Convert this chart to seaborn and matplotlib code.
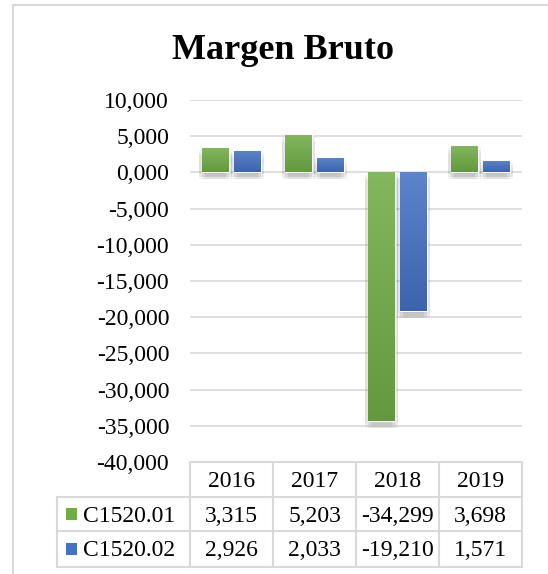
import matplotlib
matplotlib.use("Agg")
import matplotlib.pyplot as plt
import matplotlib.patheffects as pe
import matplotlib.transforms as mtransforms
from matplotlib.colors import LinearSegmentedColormap
from matplotlib.patches import Rectangle
from matplotlib.lines import Line2D
from matplotlib.ticker import FuncFormatter
import numpy as np
import pandas as pd
import seaborn as sns

# data
years = ["2016", "2017", "2018", "2019"]
series_names = ["C1520.01", "C1520.02"]
c1520_01 = [3315, 5203, -34299, 3698]
c1520_02 = [2926, 2033, -19210, 1571]
colors = ["#70AD47", "#4472C4"]
title = "Margen Bruto"
y_ticks = [10000, 5000, 0, -5000, -10000, -15000, -20000, -25000, -30000, -35000, -40000]

W, H = 548, 574
grid_col = "#d9d9d9"


def fx(px):
    return px / W


def fy(py):
    return 1 - py / H


sns.set_style("white")
plt.rcParams["font.family"] = ["Liberation Serif", "DejaVu Serif"]

df = pd.DataFrame({
    "year": years * 2,
    "series": [series_names[0]] * len(years) + [series_names[1]] * len(years),
    "value": c1520_01 + c1520_02,
})

fig = plt.figure(figsize=(W / 100, H / 100), dpi=100)
ax = fig.add_axes([fx(190), fy(462), fx(522) - fx(190), fy(100) - fy(462)])

sns.barplot(data=df, x="year", y="value", hue="series", palette=colors,
            saturation=1, width=0.77, gap=0.16, ax=ax, legend=False, errorbar=None)

# soft shadow: a few faint offset copies stacked up
shadow = [pe.SimplePatchShadow(offset=(dx, dy), shadow_rgbFace=(0.2, 0.2, 0.2), alpha=0.05)
          for dx in (-2, 0, 2) for dy in (-1, -3, -5)]

# gradient fill + shadow on each bar
for bar in list(ax.patches):
    base = np.array(bar.get_facecolor()[:3])
    top = base + (1 - base) * 0.13
    bot = base * 0.88
    cmap = LinearSegmentedColormap.from_list("grad", [bot, top])
    x0, y0 = bar.get_x(), bar.get_y()
    w, h = bar.get_width(), bar.get_height()
    y_lo, y_hi = min(y0, y0 + h), max(y0, y0 + h)
    grad = np.linspace(1, 0, 100).reshape(-1, 1)
    im = ax.imshow(grad, cmap=cmap, vmin=0, vmax=1, origin="upper", aspect="auto",
                   extent=(x0, x0 + w, y_lo, y_hi), zorder=bar.get_zorder() + 0.1)
    im.set_clip_path(bar)
    bar.set_path_effects(shadow + [pe.Normal()])

ax.set_xlim(-0.5, len(years) - 0.5)
ax.set_ylim(min(y_ticks), max(y_ticks))
ax.set_yticks(y_ticks)
ax.yaxis.set_major_formatter(FuncFormatter(lambda v, p: f"{v / 1000:.0f},000"))
ax.yaxis.grid(True, color=grid_col, lw=1.2)
ax.set_axisbelow(True)
ax.tick_params(axis="y", length=0, pad=15, labelsize=17, labelcolor="black")
ax.tick_params(axis="x", length=0, labelbottom=False)
ax.set_xlabel("")
ax.set_ylabel("")
sns.despine(ax=ax, left=True, bottom=True)

# data table below the plot
trans = mtransforms.blended_transform_factory(ax.transData, fig.transFigure)
col_w = (522 - 190) / len(years)
x_label_left = -0.5 - (190 - 57) / col_w
row_lines = [462, 497, 531, 567]
lkw = dict(color=grid_col, lw=1.5, transform=trans, clip_on=False)

ax.add_line(Line2D([-0.5, len(years) - 0.5], [fy(row_lines[0])] * 2, **lkw))
for r in row_lines[1:]:
    ax.add_line(Line2D([x_label_left, len(years) - 0.5], [fy(r)] * 2, **lkw))
for i in range(len(years) + 1):
    ax.add_line(Line2D([i - 0.5, i - 0.5], [fy(row_lines[0]), fy(row_lines[-1])], **lkw))
ax.add_line(Line2D([x_label_left, x_label_left], [fy(row_lines[1]), fy(row_lines[-1])], **lkw))

tkw = dict(fontsize=17, color="black", transform=trans, va="baseline", clip_on=False)
for i, yr in enumerate(years):
    ax.text(i, fy((row_lines[0] + row_lines[1]) / 2 + 7.5), yr, ha="center", **tkw)

for k, (name, vals, col) in enumerate(zip(series_names, [c1520_01, c1520_02], colors)):
    yc = (row_lines[k + 1] + row_lines[k + 2]) / 2
    for i, v in enumerate(vals):
        ax.text(i, fy(yc + 7.5), f"{v:,}", ha="center", **tkw)
    ax.text(-0.5 - (190 - 83) / col_w, fy(yc + 7.5), name, ha="left", **tkw)
    ax.add_patch(Rectangle((-0.5 - (190 - 66) / col_w, fy(yc + 5.5)), 11 / col_w, 12 / H,
                           facecolor=col, edgecolor="none", transform=trans, clip_on=False))

fig.text(fx(283.5), fy(59), title, ha="center", va="baseline",
         fontsize=26, fontweight="bold", color="black")

# chart frame
fig.add_artist(Rectangle((fx(13), fy(620)), fx(600), 620 / H - 5 / H, fill=False,
                         edgecolor=grid_col, lw=1.5, transform=fig.transFigure))

fig.savefig("out.png", dpi=100)
